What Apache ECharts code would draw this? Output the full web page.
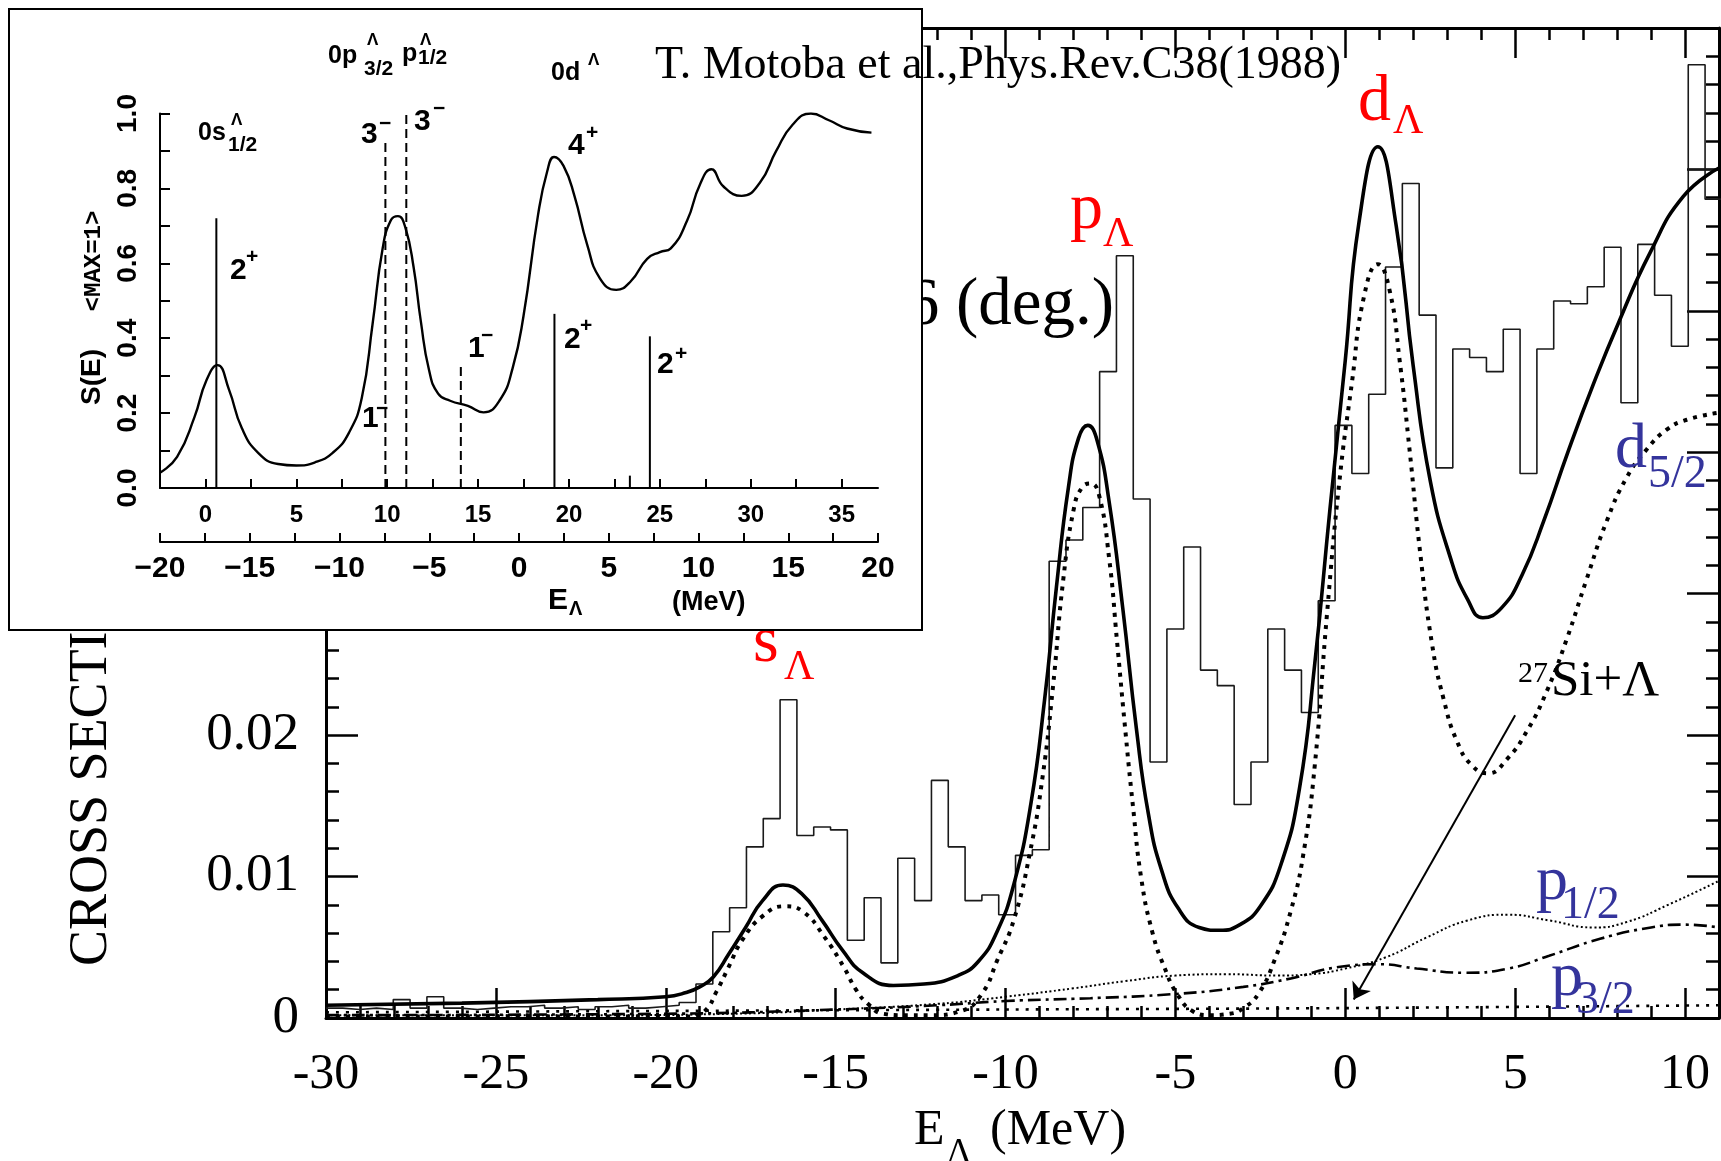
<!DOCTYPE html>
<html>
<head>
<meta charset="utf-8">
<script src="https://cdn.jsdelivr.net/npm/echarts@6/dist/echarts.min.js"></script>
<style>
  html, body { margin: 0; padding: 0; background: #fff; }
  #chart { width: 1721px; height: 1161px; }
</style>
</head>
<body>
<div id="chart"></div>
<script>
// ---------- main spectrum: E_Lambda (MeV) vs cross section ----------
// measured histogram: equal-width bins starting at binStart
const binStart = -30;
const binWidth = 0.495;
const histCounts = [
  0.0007, 0.0006, 0.0007, 0.0006, 0.0013, 0.0007, 0.0015, 0.0007, 0.0006, 0.0007,
  0.0008, 0.0008, 0.0009, 0.0007, 0.0008, 0.0006, 0.0008, 0.0009, 0.0007, 0.0008,
  0.0009, 0.0011, 0.0024, 0.0061, 0.0078, 0.0121, 0.0141, 0.0225, 0.0129, 0.0135,
  0.0133, 0.0055, 0.0085, 0.0039, 0.0113, 0.0083, 0.0168, 0.0121, 0.0083, 0.0087,
  0.0073, 0.0115, 0.0119, 0.0323, 0.0338, 0.0361, 0.0457, 0.0539, 0.0367, 0.0181,
  0.0275, 0.0333, 0.0246, 0.0235, 0.0151, 0.0181, 0.0275, 0.0246, 0.0216, 0.0295,
  0.0419, 0.0385, 0.0441, 0.0531, 0.0590, 0.0497, 0.0389, 0.0473, 0.0467, 0.0457,
  0.0487, 0.0385, 0.0473, 0.0507, 0.0505, 0.0517, 0.0545, 0.0435, 0.0547, 0.0511,
  0.0475, 0.0674, 0.0579
];
// extra step drawn across the last bins
const lastStep = [[10.095, 0.0600], [11.0, 0.0600]];

// calculated total cross section
const totalCurve = [
  [-30, 0.0009], [-26, 0.00105], [-22, 0.0013], [-20, 0.0015],
  [-19.4, 0.0018], [-19.0, 0.0022], [-18.6, 0.0029], [-18.15, 0.0045], [-17.65, 0.0064],
  [-17.15, 0.0083], [-16.55, 0.0094], [-16.0, 0.0088], [-15.4, 0.0069],
  [-14.8, 0.0048], [-14.2, 0.0032], [-13.3, 0.0023], [-12.4, 0.0024], [-11.4, 0.0030],
  [-10.8, 0.0040], [-10.25, 0.0061], [-9.75, 0.0095], [-9.25, 0.0152], [-8.85, 0.0225],
  [-8.5, 0.0305], [-8.15, 0.0375], [-7.85, 0.0410], [-7.58, 0.0419], [-7.3, 0.0408],
  [-6.95, 0.0365], [-6.55, 0.0290], [-6.15, 0.0205], [-5.8, 0.0145], [-5.4, 0.0104],
  [-4.9, 0.0077], [-4.3, 0.0064], [-3.7, 0.0062], [-3.1, 0.0066], [-2.5, 0.0079],
  [-1.9, 0.0108], [-1.35, 0.0162], [-0.9, 0.0250], [-0.45, 0.0360], [0.0, 0.0465],
  [0.4, 0.0562], [0.96, 0.0616], [1.5, 0.0560], [2.0, 0.0461], [2.5, 0.0380],
  [3.1, 0.0325], [3.6, 0.0296], [4.05, 0.0283], [4.6, 0.0290], [5.2, 0.0313],
  [5.85, 0.0352], [6.55, 0.0400], [7.3, 0.0448], [8.05, 0.0492], [8.97, 0.0541],
  [9.95, 0.0581], [11.0, 0.0601]
];

// s, p, d Lambda-orbital contributions
const orbitalCurve = [
  [-30, 0.0001], [-19.3, 0.0001], [-18.85, 0.0005], [-18.5, 0.0019], [-18.15, 0.0036],
  [-17.75, 0.0055], [-17.15, 0.0072], [-16.5, 0.0079], [-15.95, 0.0075], [-15.35, 0.0058],
  [-14.76, 0.0036], [-14.4, 0.0020], [-14.05, 0.0010], [-13.6, 0.0003], [-13.0, 0.0002],
  [-12.2, 0.0002], [-11.3, 0.0005], [-10.7, 0.0017], [-10.24, 0.0041], [-9.76, 0.0069],
  [-9.28, 0.0117], [-8.9, 0.0172], [-8.6, 0.0235], [-8.3, 0.0310],
  [-7.99, 0.0360], [-7.75, 0.0375], [-7.5, 0.0378], [-7.25, 0.0370],
  [-6.95, 0.0325], [-6.72, 0.0267], [-6.5, 0.0210], [-6.25, 0.0150], [-6.0, 0.0098],
  [-5.67, 0.0060], [-5.31, 0.0035], [-4.95, 0.0017], [-4.5, 0.0005], [-4.0, 0.0002],
  [-3.4, 0.0003], [-3.0, 0.0007], [-2.56, 0.0017], [-2.08, 0.0041], [-1.6, 0.0076],
  [-1.24, 0.0115], [-0.9, 0.0178], [-0.54, 0.0285], [-0.17, 0.0380], [0.2, 0.0450],
  [0.55, 0.0510], [0.96, 0.0533], [1.3, 0.0515], [1.6, 0.0465],
  [1.9, 0.0400], [2.2, 0.0330], [2.55, 0.0265], [2.9, 0.0225],
  [3.3, 0.0195], [3.75, 0.0178], [4.2, 0.0173], [4.76, 0.0183], [5.35, 0.0203],
  [5.93, 0.0231], [6.52, 0.0268], [7.1, 0.0310], [7.69, 0.0351], [8.28, 0.0382],
  [8.87, 0.0402], [9.46, 0.0416], [10.05, 0.0423], [11.0, 0.0428]
];

// p1/2 contribution (fine dots)
const p12Curve = [
  [-30, 0.0002], [-22, 0.0002], [-18, 0.0003], [-15, 0.0006], [-12, 0.0010], [-10, 0.0015],
  [-8, 0.0021], [-6.5, 0.0026], [-5, 0.0030], [-3.5, 0.0031], [-2, 0.0030], [-1.0, 0.0031],
  [0.0, 0.0035], [1.2, 0.0043], [2.4, 0.0057], [3.6, 0.0069], [4.8, 0.0073],
  [6.0, 0.0069], [7.3, 0.0064], [8.3, 0.0068], [9.5, 0.0080], [11.0, 0.0097]
];

// p3/2 contribution (dash-dot)
const p32Curve = [
  [-30, 0.0002], [-20, 0.0003], [-15, 0.0006], [-12, 0.0009], [-10, 0.0012], [-7.5, 0.0014],
  [-5, 0.0017], [-3, 0.0022], [-1.6, 0.0028], [-0.2, 0.0036], [1.0, 0.0038], [2.1, 0.0035],
  [3.5, 0.0032], [4.8, 0.0035], [6.0, 0.0044], [7.5, 0.0056], [9.0, 0.0064], [10.0, 0.0066],
  [11.0, 0.0064]
];

// 27Si + Lambda threshold contribution (sparse dots near zero)
const thresholdCurve = [[-30, 0.0004], [-20, 0.0005], [-10, 0.0006], [0, 0.0007], [11, 0.0009]];

// arrow from the "27Si+Λ" note to the threshold
const arrowFrom = [5.0, 0.0214];
const arrowTo = [0.25, 0.0013];

// ---------- inset: strength function S(E) ----------
const insetCurve = [
  [-2.5, 0.041], [-1.56, 0.083], [-0.6, 0.19], [0.05, 0.287], [0.66, 0.328], [1.3, 0.262],
  [2.0, 0.160], [2.9, 0.094], [4.0, 0.064], [5.0, 0.060], [6.0, 0.068], [7.0, 0.094], [7.9, 0.148],
  [8.6, 0.240], [9.2, 0.440], [9.75, 0.640], [10.2, 0.715], [10.59, 0.726], [11.0, 0.695],
  [11.45, 0.590], [11.85, 0.445], [12.3, 0.315], [12.8, 0.252], [13.46, 0.233], [14.44, 0.219],
  [15.3, 0.202], [16.2, 0.235], [16.9, 0.320], [17.5, 0.460], [18.3, 0.730], [18.8, 0.845],
  [19.18, 0.884], [19.7, 0.860], [20.3, 0.780], [21.0, 0.650], [21.7, 0.560], [22.6, 0.529],
  [23.4, 0.552], [24.3, 0.612], [25.0, 0.630], [25.6, 0.640], [26.5, 0.714], [27.2, 0.810],
  [27.83, 0.851], [28.5, 0.805], [29.5, 0.780], [30.5, 0.815], [31.4, 0.900], [32.3, 0.970],
  [33.31, 1.000], [34.3, 0.982], [35.3, 0.960], [36.64, 0.949]
];
// discrete levels: excitation energy, strength, dashed (negative parity)
const levelE = [0.6, 9.9, 11.05, 14.05, 19.2, 23.35, 24.45];
const levelS = [0.72, 0.93, 1.0, 0.325, 0.465, 0.033, 0.405];
const levelDashed = [0, 1, 1, 1, 0, 0, 0];

// ---------- build ----------
const histData = histCounts.map((v, k) => [binStart + k * binWidth, v]);
histData.push([binStart + histCounts.length * binWidth, histCounts[histCounts.length - 1]]);

const serif = '"Liberation Serif", "Times New Roman", serif';
const sans = '"Liberation Sans", Arial, sans-serif';
const black = '#000';
const red = '#ff0000';
const blue = '#34349c';

function txt(text, x, y, font, fill, z, align) {
  return {
    type: 'text', x: x, y: y, z: z || 5, silent: true,
    style: {
      text: text, font: font, fill: fill || black,
      textAlign: align || 'left', align: align || 'left',
      textVerticalAlign: 'middle', verticalAlign: 'middle'
    }
  };
}
function rtxt(text, x, y, font, align, z) {
  const e = txt(text, x, y, font, black, z, align);
  e.rotation = Math.PI / 2;
  return e;
}

function frameAxis(kind, position, interval, len, gridIndex, extra) {
  const base = {
    type: 'value', gridIndex: gridIndex, position: position,
    interval: interval,
    axisLine: { show: true, onZero: false, lineStyle: { color: black, width: 3 } },
    axisTick: { show: true, inside: true, length: len, lineStyle: { color: black, width: 2.5 } },
    axisLabel: { show: false },
    splitLine: { show: false },
    minorTick: { show: false },
    silent: true
  };
  if (kind === 'x') { base.min = -30; base.max = 11; } else { base.min = 0; base.max = 0.07; }
  return Object.assign(base, extra || {});
}

const insetAxisText = { color: black, fontFamily: sans, fontWeight: 'bold' };
const smoothing = 0.5;

const option = {
  backgroundColor: '#ffffff',
  animation: false,
  grid: [
    { left: 326, right: 2, top: 28, bottom: 143, containLabel: false },
    { left: 160, top: 113.5, width: 718, height: 374.5, containLabel: false }
  ],
  xAxis: [
    frameAxis('x', 'bottom', 5, 30, 0, {
      axisLabel: {
        show: true, margin: 32, fontFamily: serif, fontSize: 50, color: black,
        showMaxLabel: false, formatter: v => String(v)
      }
    }),
    frameAxis('x', 'bottom', 1, 12, 0, { axisLine: { show: false, onZero: false } }),
    frameAxis('x', 'top', 5, 30, 0),
    frameAxis('x', 'top', 1, 12, 0, { axisLine: { show: false, onZero: false } }),
    {
      type: 'value', gridIndex: 1, position: 'bottom', min: -2.5, max: 37, interval: 2.5, z: 60,
      axisLine: { show: true, onZero: false, lineStyle: { color: black, width: 2 } },
      axisTick: { show: true, inside: true, length: 9, lineStyle: { color: black, width: 2 } },
      axisLabel: Object.assign({
        show: true, margin: 15, fontSize: 24, interval: 0, hideOverlap: false,
        showMaxLabel: false,
        formatter: v => (v >= 0 && Math.abs(v % 5) < 1e-9) ? String(v) : ''
      }, insetAxisText),
      splitLine: { show: false }, silent: true
    },
    {
      type: 'value', gridIndex: 1, position: 'bottom', offset: 54, min: -20, max: 20, interval: 2.5, z: 60,
      axisLine: { show: true, onZero: false, lineStyle: { color: black, width: 2 } },
      axisTick: { show: true, inside: true, length: 9, lineStyle: { color: black, width: 2 } },
      axisLabel: Object.assign({
        show: true, margin: 12, fontSize: 30, interval: 0, hideOverlap: false,
        formatter: v => (Math.abs(v % 5) < 1e-9) ? (v < 0 ? '\u2212' + (-v) : String(v)) : ''
      }, insetAxisText),
      splitLine: { show: false }, silent: true
    }
  ],
  yAxis: [
    frameAxis('y', 'left', 0.01, 32, 0, {
      axisLabel: {
        show: true, margin: 27, fontFamily: serif, fontSize: 53, color: black,
        // upper values sit behind the inset panel, so only the lower ones are written
        formatter: v => v === 0 ? '0' : (v < 0.025 ? v.toFixed(2) : '')
      }
    }),
    frameAxis('y', 'left', 0.002, 13, 0, { axisLine: { show: false, onZero: false } }),
    frameAxis('y', 'right', 0.01, 32, 0),
    frameAxis('y', 'right', 0.002, 13, 0, { axisLine: { show: false, onZero: false } }),
    {
      type: 'value', gridIndex: 1, position: 'left', min: 0, max: 1, interval: 0.1, z: 60,
      axisLine: { show: true, onZero: false, lineStyle: { color: black, width: 2 } },
      axisTick: { show: true, inside: true, length: 10, lineStyle: { color: black, width: 2 } },
      axisLabel: Object.assign({
        show: true, margin: 18, fontSize: 28, rotate: 90, interval: 0, hideOverlap: false,
        formatter: v => { const t = Math.round(v * 10); return t % 2 === 0 ? (t / 10).toFixed(1) : ''; }
      }, insetAxisText),
      splitLine: { show: false }, silent: true
    }
  ],
  series: [
    {
      name: 'data', type: 'line', xAxisIndex: 0, yAxisIndex: 0, data: histData,
      step: 'end', symbol: 'none', z: 3, silent: true,
      lineStyle: { color: '#1a1a1a', width: 1.6 }
    },
    {
      name: 'data tail', type: 'line', xAxisIndex: 0, yAxisIndex: 0, data: lastStep,
      symbol: 'none', z: 3, silent: true, lineStyle: { color: '#1a1a1a', width: 1.6 }
    },
    {
      name: 'total', type: 'line', xAxisIndex: 0, yAxisIndex: 0, data: totalCurve,
      smooth: smoothing, symbol: 'none', z: 4, silent: true,
      lineStyle: { color: black, width: 3.6 }
    },
    {
      name: 'orbitals', type: 'line', xAxisIndex: 0, yAxisIndex: 0, data: orbitalCurve,
      smooth: smoothing, symbol: 'none', z: 4, silent: true,
      lineStyle: { color: black, width: 4, type: [4, 6], cap: 'butt' }
    },
    {
      name: 'p1/2', type: 'line', xAxisIndex: 0, yAxisIndex: 0, data: p12Curve,
      smooth: smoothing, symbol: 'none', z: 4, silent: true,
      lineStyle: { color: black, width: 2, type: [2, 2.5], cap: 'butt' }
    },
    {
      name: 'p3/2', type: 'line', xAxisIndex: 0, yAxisIndex: 0, data: p32Curve,
      smooth: smoothing, symbol: 'none', z: 4, silent: true,
      lineStyle: { color: black, width: 2.6, type: [13, 5, 3, 5], cap: 'butt' }
    },
    {
      name: 'threshold', type: 'line', xAxisIndex: 0, yAxisIndex: 0, data: thresholdCurve,
      smooth: 0.3, symbol: 'none', z: 4, silent: true,
      lineStyle: { color: black, width: 2.6, type: [3, 7], cap: 'butt' },
      markLine: {
        silent: true, symbol: ['none', 'arrow'], symbolSize: 16, animation: false,
        label: { show: false },
        lineStyle: { color: black, width: 2, type: 'solid' },
        data: [[{ coord: arrowFrom }, { coord: arrowTo }]]
      }
    },
    {
      name: 'S(E)', type: 'line', xAxisIndex: 4, yAxisIndex: 4, data: insetCurve,
      smooth: smoothing, symbol: 'none', z: 61, silent: true,
      lineStyle: { color: black, width: 2.4 }
    },
    {
      name: 'levels', type: 'custom', xAxisIndex: 4, yAxisIndex: 4, z: 61, silent: true,
      data: levelE.map((e, i) => [e, levelS[i], levelDashed[i]]),
      renderItem: function (params, api) {
        const p0 = api.coord([api.value(0), 0]);
        const p1 = api.coord([api.value(0), api.value(1)]);
        return {
          type: 'line', z2: 1,
          shape: { x1: p0[0], y1: p0[1], x2: p1[0], y2: p1[1] },
          style: { stroke: black, lineWidth: 2, lineDash: api.value(2) ? [9, 5] : null }
        };
      }
    }
  ],
  graphic: {
    elements: [
      // main frame annotations
      rtxt('CROSS SECTION', 92, 966, '54px ' + serif, 'left', 5),
      txt('6 (deg.)', 1114, 306, '67px ' + serif, black, 5, 'right'),
      txt('E', 914, 1131, '50px ' + serif),
      txt('\u039B', 946, 1154, '36px ' + serif),
      txt('(MeV)', 990, 1131, '50px ' + serif),

      txt('s', 753, 644, '66px ' + serif, red),
      txt('\u039B', 784, 668, '42px ' + serif, red),
      txt('p', 1070, 211, '66px ' + serif, red),
      txt('\u039B', 1103, 235, '42px ' + serif, red),
      txt('d', 1358, 103, '66px ' + serif, red),
      txt('\u039B', 1393, 122, '42px ' + serif, red),

      txt('d', 1615, 450, '64px ' + serif, blue),
      txt('5/2', 1648, 475, '46px ' + serif, blue),
      txt('p', 1536, 882, '64px ' + serif, blue),
      txt('1/2', 1561, 906, '46px ' + serif, blue),
      txt('p', 1551, 978, '64px ' + serif, blue),
      txt('3/2', 1576, 1001, '46px ' + serif, blue),

      txt('27', 1518, 674, '30px ' + serif),
      txt('Si+\u039B', 1551, 682, '51px ' + serif),

      // inset panel
      {
        type: 'rect', z: 50, silent: true,
        shape: { x: 9, y: 9, width: 913, height: 621 },
        style: { fill: '#ffffff', stroke: black, lineWidth: 2 }
      },
      rtxt('S(E)', 92, 377, 'bold 28px ' + sans, 'center', 70),
      rtxt('<MAX=1>', 94, 261, 'bold 24px "Liberation Mono", monospace', 'center', 70),

      txt('0s', 198, 133, 'bold 25px ' + sans, black, 70),
      txt('\u039B', 231, 120, 'bold 17px ' + sans, black, 70),
      txt('1/2', 228, 145, 'bold 21px ' + sans, black, 70),

      txt('0p', 328, 56, 'bold 25px ' + sans, black, 70),
      txt('\u039B', 367, 40, 'bold 17px ' + sans, black, 70),
      txt('3/2', 364, 69, 'bold 21px ' + sans, black, 70),
      txt('p', 402, 54, 'bold 25px ' + sans, black, 70),
      txt('\u039B', 420, 40, 'bold 17px ' + sans, black, 70),
      txt('1/2', 418, 58, 'bold 21px ' + sans, black, 70),

      txt('0d', 551, 73, 'bold 25px ' + sans, black, 70),
      txt('\u039B', 588, 60, 'bold 17px ' + sans, black, 70),

      txt('2', 230, 271, 'bold 30px ' + sans, black, 70),
      txt('+', 246, 257, 'bold 21px ' + sans, black, 70),
      txt('3', 361, 135, 'bold 30px ' + sans, black, 70),
      txt('\u2212', 379, 124, 'bold 21px ' + sans, black, 70),
      txt('3', 414, 122, 'bold 30px ' + sans, black, 70),
      txt('\u2212', 433, 109, 'bold 21px ' + sans, black, 70),
      txt('1', 362, 419, 'bold 30px ' + sans, black, 70),
      txt('\u2212', 376, 409, 'bold 21px ' + sans, black, 70),
      txt('1', 468, 349, 'bold 30px ' + sans, black, 70),
      txt('\u2212', 481, 336, 'bold 21px ' + sans, black, 70),
      txt('4', 568, 146, 'bold 30px ' + sans, black, 70),
      txt('+', 586, 133, 'bold 21px ' + sans, black, 70),
      txt('2', 564, 340, 'bold 30px ' + sans, black, 70),
      txt('+', 580, 326, 'bold 21px ' + sans, black, 70),
      txt('2', 657, 365, 'bold 30px ' + sans, black, 70),
      txt('+', 675, 354, 'bold 21px ' + sans, black, 70),

      txt('E', 548, 601, 'bold 30px ' + sans, black, 70),
      txt('\u039B', 569, 609, 'bold 20px ' + sans, black, 70),
      txt('(MeV)', 672, 603, 'bold 27px ' + sans, black, 70),

      // reference line on top of everything
      txt('T. Motoba et al.,Phys.Rev.C38(1988)', 655, 66, '46px ' + serif, black, 80)
    ]
  }
};

const chart = echarts.init(document.getElementById('chart'), null, { renderer: 'canvas' });
chart.setOption(option);
</script>
</body>
</html>
